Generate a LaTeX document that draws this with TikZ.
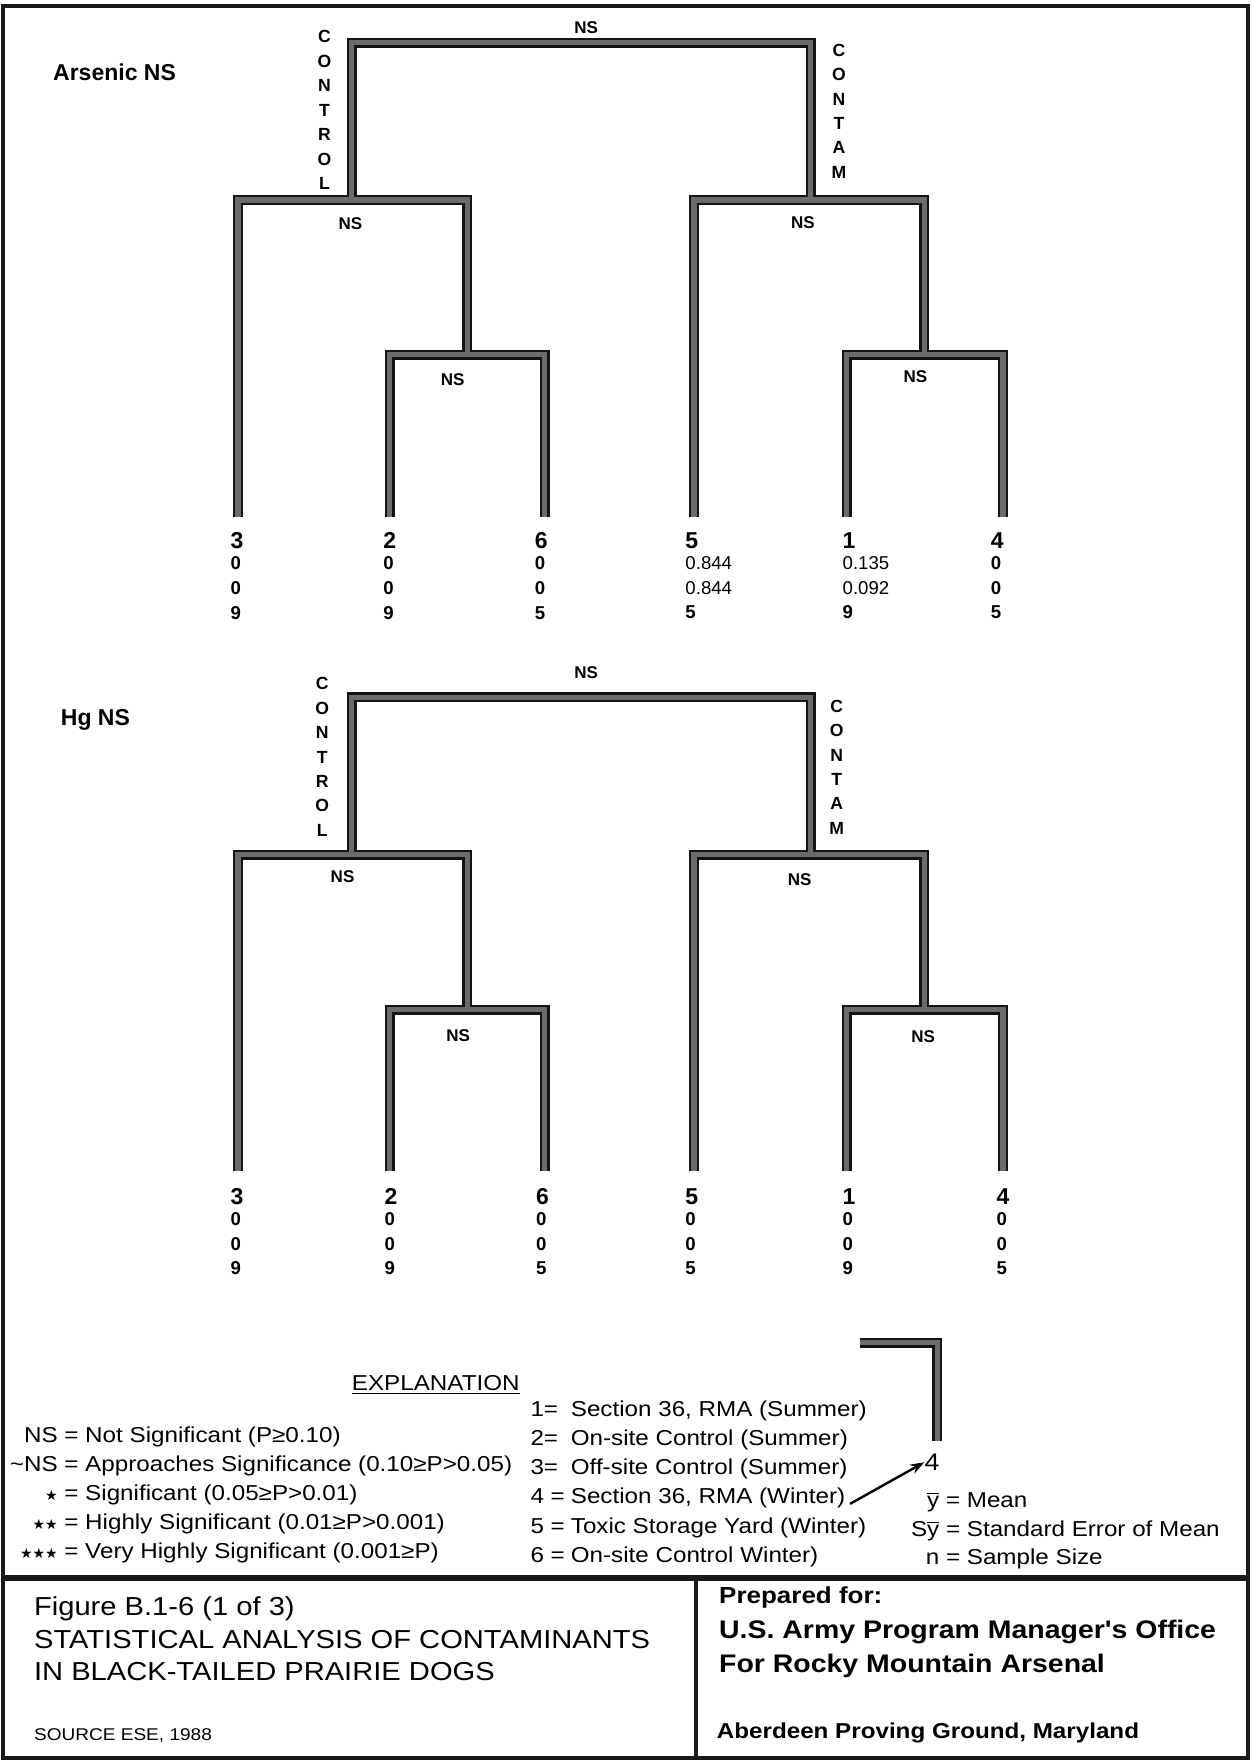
\documentclass[tikz,border=0pt]{standalone}
\usepackage{fontspec}
\setmainfont{Liberation Sans}
\newfontfamily\wide[FakeStretch=1.12]{Liberation Sans}
\newfontfamily\djv{DejaVu Sans}
\usetikzlibrary{arrows.meta,calc}

\newcommand\lnum[1]{{\fontsize{11.5}{12.3}\selectfont #1}}
\newcommand\dec[1]{{\mdseries #1}}
\newcommand\stars[1]{{\djv\fontsize{7}{8}\selectfont #1}}
\newcommand\ybar{$\overline{\hbox{y}}$}
\newcommand\mk[1]{\makebox[20.2pt][l]{#1}}

\newcommand\treebars[1]{%
 \coordinate (#1ra) at (313,178); \coordinate (#1rb) at (313,38);
 \coordinate (#1rc) at (722,38);  \coordinate (#1rd) at (722,178);
 \coordinate (#1la) at (212,460); \coordinate (#1lb) at (212,178);
 \coordinate (#1lc) at (416,178); \coordinate (#1ld) at (416,316);
 \coordinate (#1ma) at (347,460); \coordinate (#1mb) at (347,316);
 \coordinate (#1mc) at (485,316); \coordinate (#1md) at (485,460);
 \coordinate (#1na) at (618,460); \coordinate (#1nb) at (618,178);
 \coordinate (#1nc) at (823,178); \coordinate (#1nd) at (823,316);
 \coordinate (#1oa) at (754,460); \coordinate (#1ob) at (754,316);
 \coordinate (#1oc) at (893,316); \coordinate (#1od) at (893,460);
 \foreach \q in {r,l,m,n,o}{\draw[bar] (#1\q a)--(#1\q b)--(#1\q c)--(#1\q d);}
 \foreach \q in {r,l,m,n,o}{\draw[barfill] (#1\q a)--(#1\q b)--(#1\q c)--(#1\q d);}
}

\begin{document}
\begin{tikzpicture}[x=0.5615pt,y=-0.5615pt,
  bar/.style={line width=5pt,draw=black!92,line join=miter},
  barfill/.style={line width=2.6pt,draw=black!58,line join=miter},
  lab/.style={font=\bfseries\fontsize{8.5}{10}\selectfont,inner sep=0pt},
  ttl/.style={font=\bfseries\fontsize{11.5}{13}\selectfont,inner sep=0pt},
  vlab/.style={font=\bfseries\fontsize{8.8}{12.2}\selectfont,align=center,inner sep=0pt},
  leaf/.style={font=\bfseries\fontsize{9.3}{12.3}\selectfont,align=left,inner sep=0pt,anchor=north west},
  expl/.style={font=\wide\fontsize{10.8}{13}\selectfont,inner sep=0pt,anchor=base west},
  boxtxt/.style={font=\wide\fontsize{13}{15}\selectfont,inner sep=0pt,anchor=base west},
  boxbold/.style={font=\wide\bfseries\fontsize{12.7}{15}\selectfont,inner sep=0pt,anchor=base west},
  frame/.style={line width=2pt,draw=black!90},
  arr/.style={line width=1.2pt,-{Stealth[length=7pt,width=5pt]}}]
\useasboundingbox (0,0) rectangle (1114,1568);
\fill[white] (0,0) rectangle (1114,1568);

% frame
\draw[frame] (3,5) rectangle (1111,1565);
\draw[frame,line width=2.6pt] (3,1405) -- (1111,1405);
\draw[frame] (620,1405) -- (620,1565);

% ---------- Arsenic tree ----------
\treebars{a}
\node[ttl] (atitle) at (102,64) {Arsenic NS};
\node[lab] (ans0) at (522,25) {NS};
\node[vlab] (actl) at (289,98) {C\\O\\N\\T\\R\\O\\L};
\node[vlab] (acon) at (747,99) {C\\O\\N\\T\\A\\M};
\node[lab] (ans1) at (312,199) {NS};
\node[lab] (ans2) at (403,338) {NS};
\node[lab] (ans3) at (715,198) {NS};
\node[lab] (ans4) at (815,335) {NS};
\node[leaf] (a3) at (205,474) {\lnum{3}\\[-1.8pt]0\\0\\9};
\node[leaf] (a2) at (341,474) {\lnum{2}\\[-1.8pt]0\\0\\9};
\node[leaf] (a6) at (476,474) {\lnum{6}\\[-1.8pt]0\\0\\5};
\node[leaf] (a5) at (610,474) {\lnum{5}\\[-1.8pt]\dec{0.844}\\\dec{0.844}\\5};
\node[leaf] (a1) at (750,474) {\lnum{1}\\[-1.8pt]\dec{0.135}\\\dec{0.092}\\9};
\node[leaf] (a4) at (882,474) {\lnum{4}\\[-1.8pt]0\\0\\5};

% ---------- Hg tree ----------
\begin{scope}[shift={(0,583)}]
\treebars{h}
\end{scope}
\node[ttl] (htitle) at (85,641) {Hg NS};
\node[lab] (hns0) at (522,599) {NS};
\node[vlab] (hctl) at (287,674) {C\\O\\N\\T\\R\\O\\L};
\node[vlab] (hcon) at (745,683) {C\\O\\N\\T\\A\\M};
\node[lab] (hns1) at (305,781) {NS};
\node[lab] (hns2) at (408,922) {NS};
\node[lab] (hns3) at (712,783) {NS};
\node[lab] (hns4) at (822,923) {NS};
\node[leaf] (h3) at (205,1058) {\lnum{3}\\[-1.8pt]0\\0\\9};
\node[leaf] (h2) at (342,1058) {\lnum{2}\\[-1.8pt]0\\0\\9};
\node[leaf] (h6) at (477,1058) {\lnum{6}\\[-1.8pt]0\\0\\5};
\node[leaf] (h5) at (610,1058) {\lnum{5}\\[-1.8pt]0\\0\\5};
\node[leaf] (h1) at (750,1058) {\lnum{1}\\[-1.8pt]0\\0\\9};
\node[leaf] (h4) at (887,1058) {\lnum{4}\\[-1.8pt]0\\0\\5};

% ---------- Explanation ----------
\node[expl,anchor=base] (exttl) at (388,1238) {\underline{EXPLANATION}};
\node[expl] (e1) at (57,1284) {\llap{NS }= Not Significant (P≥0.10)};
\node[expl] (e2) at (57,1310) {\llap{\textasciitilde NS }= Approaches Significance (0.10≥P>0.05)};
\node[expl] (e3) at (57,1336) {\llap{\stars{★} }= Significant (0.05≥P>0.01)};
\node[expl] (e4) at (57,1362) {\llap{\stars{★★} }= Highly Significant (0.01≥P>0.001)};
\node[expl] (e5) at (57,1388) {\llap{\stars{★★★} }= Very Highly Significant (0.001≥P)};

\node[expl] (m1) at (472,1261) {\mk{1=}Section 36, RMA (Summer)};
\node[expl] (m2) at (472,1287) {\mk{2=}On-site Control (Summer)};
\node[expl] (m3) at (472,1313) {\mk{3=}Off-site Control (Summer)};
\node[expl] (m4) at (472,1339) {\mk{4 =}Section 36, RMA (Winter)};
\node[expl] (m5) at (472,1365) {\mk{5 =}Toxic Storage Yard (Winter)};
\node[expl] (m6) at (472,1391) {\mk{6 =}On-site Control Winter)};

\node[expl] (y1) at (842,1342) {\llap{\ybar\ }= Mean};
\node[expl] (y2) at (842,1368) {\llap{S\ybar\ }= Standard Error of Mean};
\node[expl] (y3) at (842,1393) {\llap{n }= Sample Size};

% legend mini tree
\coordinate (ga) at (766,1195.5);
\coordinate (gb) at (834.5,1195.5);
\coordinate (gc) at (834.5,1283);
\draw[bar] (ga) -- (gb) -- (gc);
\draw[barfill] (ga) -- (gb) -- (gc);
\node[font=\wide\fontsize{12}{13}\selectfont,inner sep=0pt] (lg4) at (830,1302) {4};
\draw[arr] ($(m4.east)+(4,5)$) -- (lg4.west);

% ---------- Title block ----------
\node[boxtxt] (f1) at (30,1438) {Figure B.1-6 (1 of 3)};
\node[boxtxt] (f2) at (30,1468) {STATISTICAL ANALYSIS OF CONTAMINANTS};
\node[boxtxt] (f3) at (30,1496) {IN BLACK-TAILED PRAIRIE DOGS};
\node[boxtxt,font=\wide\fontsize{8.5}{10}\selectfont] (f4) at (30,1550) {SOURCE ESE, 1988};
\node[boxbold,font=\wide\bfseries\fontsize{11.6}{14}\selectfont] (p1) at (640,1428) {Prepared for:};
\node[boxbold] (p2) at (640,1459) {U.S. Army Program Manager's Office};
\node[boxbold] (p3) at (640,1489) {For Rocky Mountain Arsenal};
\node[boxbold,font=\wide\bfseries\fontsize{10.8}{13}\selectfont] (p4) at (638,1548) {Aberdeen Proving Ground, Maryland};
\end{tikzpicture}
\end{document}
